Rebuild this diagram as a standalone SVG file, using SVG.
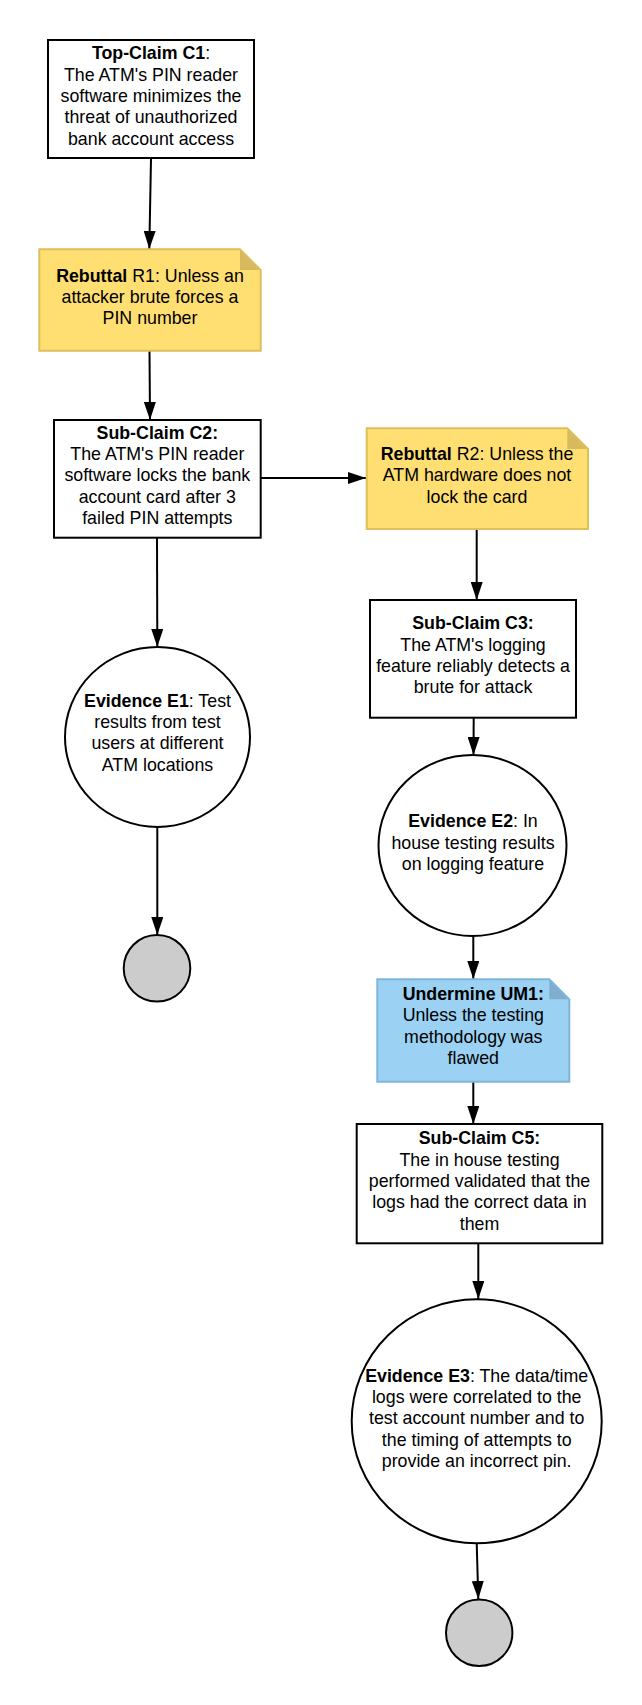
<svg xmlns="http://www.w3.org/2000/svg" width="642" height="1705" viewBox="0 0 642 1705">
<defs>
<marker id="ah" markerUnits="userSpaceOnUse" markerWidth="18" markerHeight="12" refX="18" refY="6" orient="auto">
<path d="M0,0 L18,6 L0,12 Z" fill="#000"/>
</marker>
<style>
text{font-family:"Liberation Sans",Arial,sans-serif;font-size:17.8px;fill:#000;text-anchor:middle}
.b{font-weight:bold}
.box{fill:#fff;stroke:#000;stroke-width:2}
.ell{fill:#fff;stroke:#000;stroke-width:2}
.end{fill:#ccc;stroke:#000;stroke-width:2}
.yel{fill:#FFDF71;stroke:#DDBF5C;stroke-width:2}
.yelf{fill:#D7BA5D}
.blu{fill:#9BD1F2;stroke:#7FB5DB;stroke-width:2}
.bluf{fill:#7FAECF}
.c{fill:none;stroke:#000;stroke-width:2;marker-end:url(#ah)}
</style>
</defs>
<rect width="642" height="1705" fill="#fff"/>
<g id="connectors">
<path class="c" d="M151,159 L149.3,249"/>
<path class="c" d="M149.5,351 L150,420"/>
<path class="c" d="M261,478 L366,478"/>
<path class="c" d="M476.7,529 L476.7,600"/>
<path class="c" d="M473.7,718 L473.5,755"/>
<path class="c" d="M473.3,936 L473.3,979"/>
<path class="c" d="M473.3,1081.7 L473.3,1124"/>
<path class="c" d="M478.3,1243.3 L478.3,1299"/>
<path class="c" d="M476.7,1543 L478.3,1599"/>
<path class="c" d="M157,537.7 L157.3,647"/>
<path class="c" d="M157.3,827 L157.3,935"/>
</g>
<g id="C1">
<rect class="box" x="48" y="40" width="206" height="118"/>
<text x="151" y="59.3"><tspan class="b">Top-Claim C1</tspan>:</text>
<text x="151" y="80.7">The ATM's PIN reader</text>
<text x="151" y="102">software minimizes the</text>
<text x="151" y="123.3">threat of unauthorized</text>
<text x="151" y="144.7">bank account access</text>
</g>
<g id="R1">
<path class="yel" d="M39.3,249.3 H240 L260.7,270 V350.7 H39.3 Z"/>
<path class="yelf" d="M240,250.3 V270 H259.7 Z"/>
<text x="150" y="281.7"><tspan class="b">Rebuttal</tspan> R1: Unless an</text>
<text x="150" y="303">attacker brute forces a</text>
<text x="150" y="324.3">PIN number</text>
</g>
<g id="C2">
<rect class="box" x="54" y="420" width="206.7" height="117.7"/>
<text x="157.3" y="438.7" class="b">Sub-Claim C2:</text>
<text x="157.3" y="460">The ATM's PIN reader</text>
<text x="157.3" y="481.3">software locks the bank</text>
<text x="157.3" y="502.7">account card after 3</text>
<text x="157.3" y="524">failed PIN attempts</text>
</g>
<g id="R2">
<path class="yel" d="M366.7,428.3 H567.3 L588,449 V529 H366.7 Z"/>
<path class="yelf" d="M567.3,429.3 V449 H587 Z"/>
<text x="477" y="460"><tspan class="b">Rebuttal</tspan> R2: Unless the</text>
<text x="477" y="481.3">ATM hardware does not</text>
<text x="477" y="502.7">lock the card</text>
</g>
<g id="C3">
<rect class="box" x="370" y="600" width="206" height="117.7"/>
<text x="473" y="629.3" class="b">Sub-Claim C3:</text>
<text x="473" y="650.7">The ATM's logging</text>
<text x="473" y="672">feature reliably detects a</text>
<text x="473" y="693.3">brute for attack</text>
</g>
<g id="E1">
<ellipse class="ell" cx="157.5" cy="737" rx="92.5" ry="90"/>
<text x="157.5" y="706.7"><tspan class="b">Evidence E1</tspan>: Test</text>
<text x="157.5" y="728">results from test</text>
<text x="157.5" y="749.3">users at different</text>
<text x="157.5" y="770.7">ATM locations</text>
</g>
<g id="End1">
<circle class="end" cx="157" cy="968.3" r="33.3"/>
</g>
<g id="E2">
<ellipse class="ell" cx="472.5" cy="845.5" rx="94" ry="90.5"/>
<text x="473" y="827.3"><tspan class="b">Evidence E2</tspan>: In</text>
<text x="473" y="848.7">house testing results</text>
<text x="473" y="870">on logging feature</text>
</g>
<g id="UM1">
<path class="blu" d="M377.3,979.3 H549.3 L569.3,999.3 V1081.7 H377.3 Z"/>
<path class="bluf" d="M549.3,980.3 V999.3 H568.3 Z"/>
<text x="473.3" y="1000" class="b">Undermine UM1:</text>
<text x="473.3" y="1021.3">Unless the testing</text>
<text x="473.3" y="1042.7">methodology was</text>
<text x="473.3" y="1064">flawed</text>
</g>
<g id="C5">
<rect class="box" x="356.7" y="1124" width="245.6" height="119.3"/>
<text x="479.5" y="1144.3" class="b">Sub-Claim C5:</text>
<text x="479.5" y="1165.7">The in house testing</text>
<text x="479.5" y="1187">performed validated that the</text>
<text x="479.5" y="1208.3">logs had the correct data in</text>
<text x="479.5" y="1229.7">them</text>
</g>
<g id="E3">
<ellipse class="ell" cx="476.7" cy="1421.3" rx="125" ry="122"/>
<text x="476.7" y="1381.7"><tspan class="b">Evidence E3</tspan>: The data/time</text>
<text x="476.7" y="1403">logs were correlated to the</text>
<text x="476.7" y="1424.3">test account number and to</text>
<text x="476.7" y="1445.7">the timing of attempts to</text>
<text x="476.7" y="1467">provide an incorrect pin.</text>
</g>
<g id="End2">
<circle class="end" cx="479.2" cy="1632.7" r="33.2"/>
</g>
</svg>
